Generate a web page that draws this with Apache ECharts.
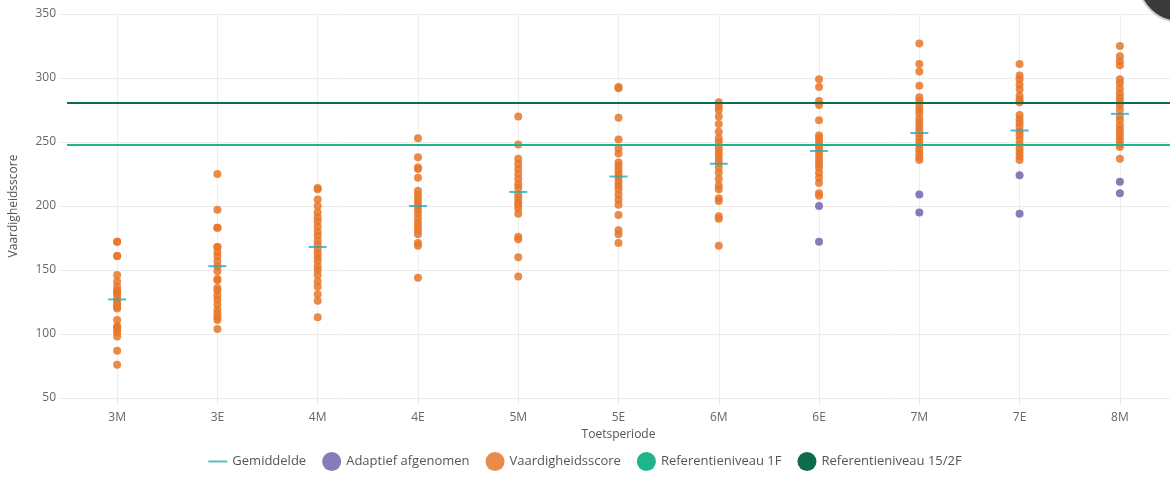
<!DOCTYPE html>
<html><head><meta charset="utf-8">
<script src="https://cdn.jsdelivr.net/npm/echarts@6/dist/echarts.min.js"></script>
<style>html,body{margin:0;padding:0;background:#fff}#c{width:1170px;height:480px}</style>
</head><body><div id="c"></div>
<script>
const categories = ['3M','3E','4M','4E','5M','5E','6M','6E','7M','7E','8M'];
const yTicks = [50,100,150,200,250,300,350];
const scores = [
  [172,172,161,161,146,141,137,134,133,131,128,125,123,121,120,111,106,105,103,101,98,87,76],
  [225,197,183,183,168,168,164,161,157,153,149,143,142,136,134,130,127,123,119,116,113,111,104],
  [214,213,205,200,195,191,188,184,180,177,173,170,166,163,160,157,153,150,146,141,137,131,126,113],
  [253,238,230,229,222,212,209,206,203,200,197,194,190,187,184,181,178,171,169,144],
  [270,248,237,233,229,225,221,217,214,209,206,203,201,198,194,176,174,160,145],
  [293,292,269,252,245,241,234,231,228,225,222,219,216,213,209,205,201,193,181,178,171],
  [281,278,275,270,264,258,253,250,246,243,240,237,234,230,226,221,216,213,206,204,192,190,169],
  [299,293,282,279,267,255,253,250,247,245,242,239,236,233,230,226,222,218,210,208],
  [327,311,305,294,285,282,278,275,272,268,265,262,259,256,253,250,247,244,241,238,236],
  [311,302,299,295,291,286,283,281,271,268,265,262,258,255,252,248,245,242,239,236],
  [325,317,313,310,299,296,292,288,285,282,279,275,270,267,263,260,257,254,251,248,246,237]
];
const adaptief = [[],[],[],[],[],[],[],[200,172],[209,195],[224,194],[219,210]];
const means = [127,153,168,200,211,223,233,243,257,259,272];
const ref1F = 247.5;
const ref2F = 281;

const scoreData = [];
scores.forEach((arr,i)=>arr.forEach(v=>scoreData.push([categories[i],v])));
const adaptData = [];
adaptief.forEach((arr,i)=>arr.forEach(v=>adaptData.push([categories[i],v])));
const meanData = means.map((v,i)=>[categories[i],v]);

const C_OR='#E8772A', C_PU='#7B6DB0', C_MEAN='#2AA9B9', C_1F='#20B48C', C_2F='#0D6B4E';
const chart = echarts.init(document.getElementById('c'));
chart.setOption({
  animation:false,
  textStyle:{fontFamily:'Open Sans'},
  grid:{left:63,right:-3,top:14,bottom:82},
  xAxis:{type:'category',data:categories,name:'Toetsperiode',nameLocation:'middle',nameGap:30,
    nameTextStyle:{color:'#555',fontSize:12},
    axisLine:{show:false},axisTick:{show:true,alignWithLabel:true,length:6,lineStyle:{color:'#e6e6e6'}},
    axisLabel:{color:'#666',fontSize:12,margin:14},
    splitLine:{show:true,alignWithLabel:true,lineStyle:{color:'#ececec'}},boundaryGap:true},
  yAxis:{type:'value',min:50,max:350,interval:50,name:'Vaardigheidsscore',nameLocation:'middle',nameGap:47,
    nameTextStyle:{color:'#555',fontSize:12},
    axisLine:{show:false},axisTick:{show:true,length:6,lineStyle:{color:'#e6e6e6'}},
    axisLabel:{color:'#666',fontSize:12,margin:11,formatter:v=>yTicks.includes(v)?String(v):''},
    splitLine:{lineStyle:{color:'#ececec'}}},
  legend:{bottom:4,left:'center',itemWidth:19,itemHeight:19,itemGap:16,
    textStyle:{color:'#555',fontSize:13},
    data:[{name:'Gemiddelde',icon:'path://M0,9H20V11H0Z'},
      {name:'Adaptief afgenomen',icon:'circle'},{name:'Vaardigheidsscore',icon:'circle'},
      {name:'Referentieniveau 1F',icon:'circle'},{name:'Referentieniveau 15/2F',icon:'circle'}]},
  series:[
    {name:'Referentieniveau 1F',type:'line',data:[],itemStyle:{color:C_1F},
      markLine:{silent:true,symbol:'none',label:{show:false},lineStyle:{color:C_1F,width:2,type:'solid'},data:[{yAxis:ref1F}]}},
    {name:'Referentieniveau 15/2F',type:'line',data:[],itemStyle:{color:C_2F},
      markLine:{silent:true,symbol:'none',label:{show:false},lineStyle:{color:C_2F,width:2,type:'solid'},data:[{yAxis:ref2F}]}},
    {name:'Vaardigheidsscore',type:'scatter',data:scoreData,symbolSize:8,itemStyle:{color:C_OR,opacity:0.85}},
    {name:'Adaptief afgenomen',type:'scatter',data:adaptData,symbolSize:8,itemStyle:{color:C_PU,opacity:0.9}},
    {name:'Gemiddelde',type:'scatter',data:meanData,symbol:'rect',symbolSize:[18,2],itemStyle:{color:C_MEAN},z:5}
  ],
  graphic:[{type:'circle',shape:{cx:1180,cy:-20,r:42},style:{fill:'#3a3a3a',stroke:'#d0d0d0',lineWidth:2},z:100}]
});
</script></body></html>
